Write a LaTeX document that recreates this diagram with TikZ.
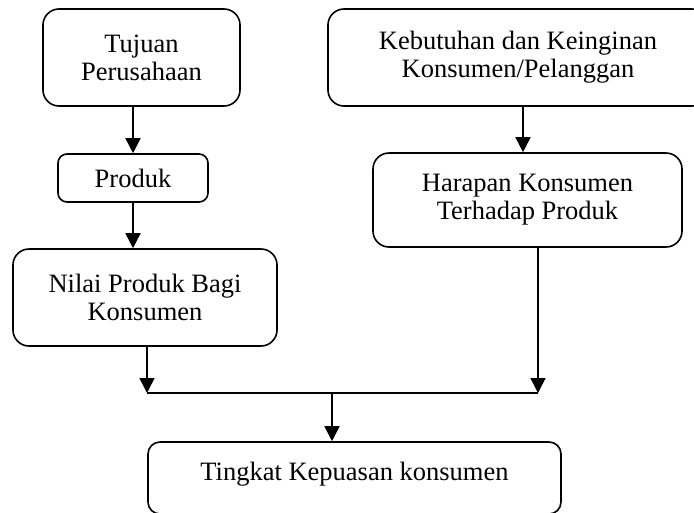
\documentclass[tikz,border=0pt]{standalone}
\usepackage{fontspec}
\setmainfont{Liberation Serif}
\usetikzlibrary{arrows.meta}
\begin{document}
\begin{tikzpicture}[x=1pt,y=1pt,
  box/.style={draw,line width=1.6pt,align=center,inner sep=0pt,
    font=\fontsize{26.5}{28}\selectfont},
  arr/.style={line width=1.6pt,-{Triangle[length=15pt,width=15pt]}},
  ln/.style={line width=1.6pt}]
\useasboundingbox (0,0) rectangle (694,-512);
\begin{scope}
\clip (0,0) rectangle (694,-512);
\node[box,rounded corners=16pt,minimum width=197pt,minimum height=97pt] (tujuan) at (141.5,-57.5) {Tujuan\\Perusahaan};
\node[box,rounded corners=16pt,minimum width=380pt,minimum height=97pt] (kebutuhan) at (518,-57.5) {Kebutuhan dan Keinginan\\Konsumen/Pelanggan};
\node[box,rounded corners=9pt,minimum width=150pt,minimum height=48pt] (produk) at (133,-178) {Produk};
\node[box,rounded corners=16pt,minimum width=309pt,minimum height=94pt] (harapan) at (527.5,-200) {Harapan Konsumen\\Terhadap Produk};
\node[box,rounded corners=16pt,minimum width=264pt,minimum height=97pt] (nilai) at (145,-297.5) {Nilai Produk Bagi\\Konsumen};
\node[box,rounded corners=12pt,minimum width=413pt,anchor=base,text height=38pt,text depth=34pt] (tingkat) at (354.5,-480) {Tingkat Kepuasan konsumen};
\end{scope}
\coordinate (jl) at (147,-393);
\coordinate (jr) at (538,-393);
\coordinate (jm) at (332,-393);
\draw[arr] (tujuan.south -| produk.north) -- (produk.north);
\draw[arr] (produk.south) -- (produk.south |- nilai.north);
\draw[arr] (kebutuhan.south -| 523,0) -- (harapan.north -| 523,0);
\draw[arr] (harapan.south -| jr) -- (jr);
\draw[arr] (nilai.south -| jl) -- (jl);
\draw[ln] (jl) -- (jr);
\draw[arr] (jm) -- (jm |- tingkat.north);
\end{tikzpicture}
\end{document}
